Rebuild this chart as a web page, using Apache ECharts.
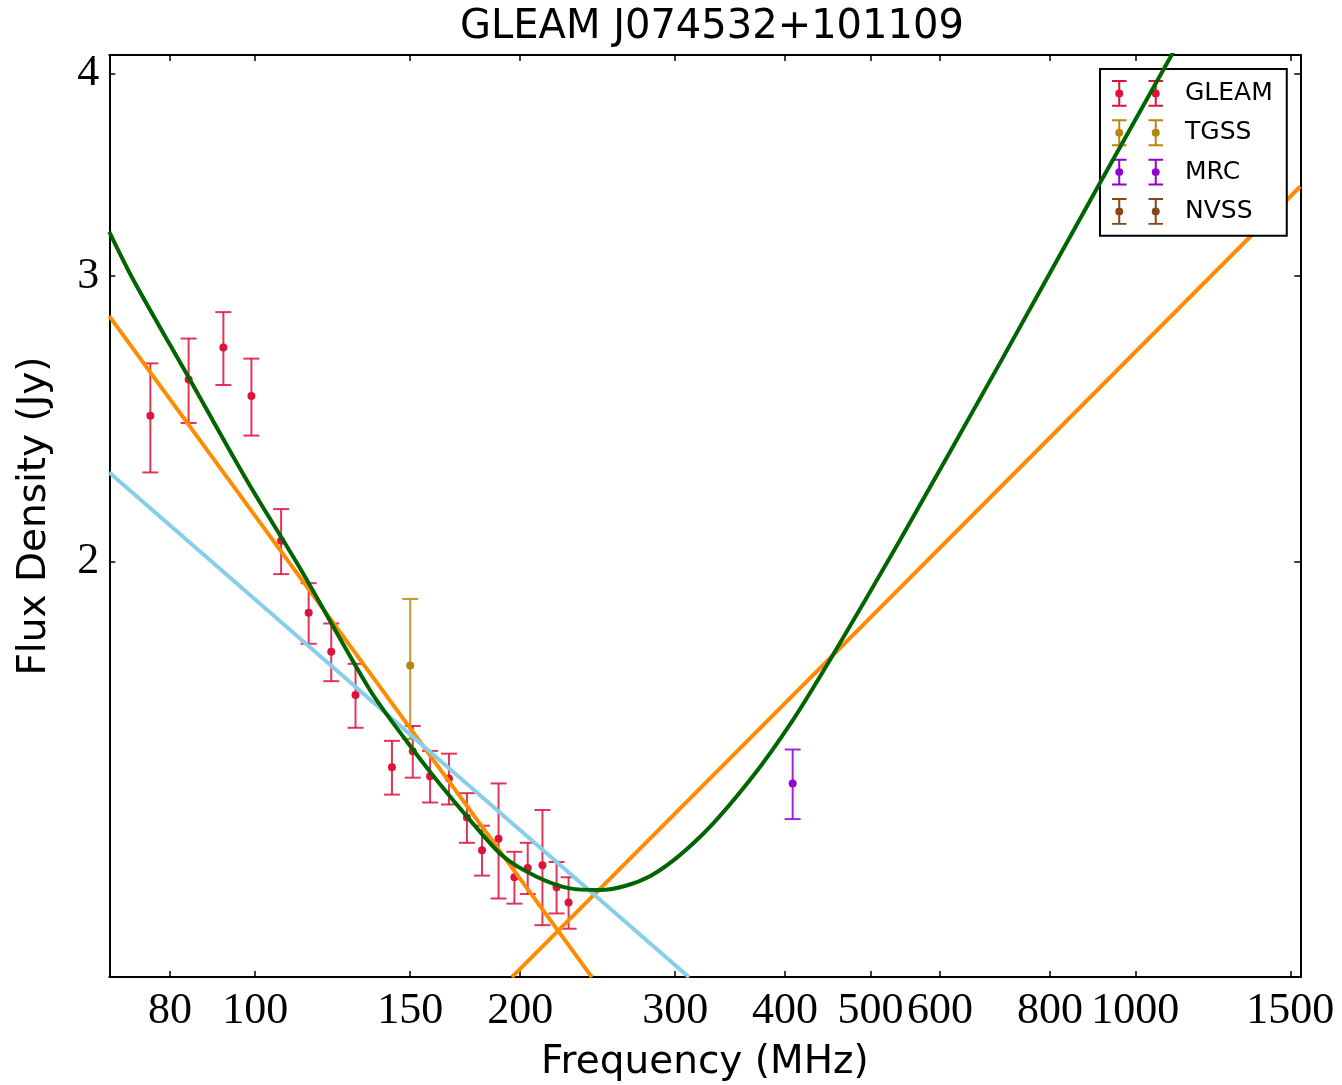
<!DOCTYPE html>
<html>
<head>
<meta charset="utf-8">
<script src="https://cdn.jsdelivr.net/npm/echarts@6/dist/echarts.min.js"></script>
<style>
  html, body { margin: 0; padding: 0; background: #fff; }
  #chart { width: 1342px; height: 1085px; }
</style>
</head>
<body>
<div id="chart"></div>
<script>
// measured data (MHz, Jy)
const gleamFreq = [76, 84, 92, 99, 107, 115, 122, 130, 143, 151, 158, 166, 174, 181, 189, 197, 204, 212, 220, 227];
const gleamFlux = [2.46, 2.59, 2.71, 2.53, 2.06, 1.86, 1.76, 1.655, 1.494, 1.528, 1.475, 1.47, 1.391, 1.328, 1.35, 1.278, 1.295, 1.30, 1.26, 1.233];
const gleamErr = [0.19, 0.155, 0.14, 0.138, 0.095, 0.08, 0.072, 0.075, 0.057, 0.056, 0.054, 0.053, 0.049, 0.047, 0.11, 0.047, 0.047, 0.106, 0.046, 0.045];
const tgssFreq = [150];
const tgssFlux = [1.726];
const tgssErr = [0.171];
const mrcFreq = [408];
const mrcFlux = [1.46];
const mrcErr = [0.072];
const nvssFreq = [];
const nvssFlux = [];
const nvssErr = [];

// fitted models
const greenFreq = [68.26, 72.7, 84.3, 97.8, 112.4, 135.0, 147.3, 160.7, 175.4, 191.4, 208.8, 227.8, 246.5, 280.9, 320.1, 364.8, 408.4, 453.3, 540.2, 701.6, 911.6, 1094.9, 1153.6];
const greenFlux = [3.194, 2.983, 2.589, 2.245, 1.982, 1.667, 1.560, 1.467, 1.386, 1.316, 1.279, 1.258, 1.255, 1.280, 1.353, 1.467, 1.598, 1.752, 2.062, 2.651, 3.423, 4.088, 4.304];
const orangeLowFreq = [68.26, 241.3];
const orangeLowFlux = [2.834, 1.109];
const orangeHighFreq = [195.7, 1539.8];
const orangeHighFlux = [1.109, 3.406];
const blueFreq = [68.26, 311.1];
const blueFlux = [2.270, 1.109];

const xTicks = [80, 100, 150, 200, 300, 400, 500, 600, 800, 1000, 1500];
const yTicks = [2, 3, 4];
const xMin = 68.26, xMax = 1539.8;
const yMin = 1.1093, yMax = 4.105;

const lg = Math.log10;

const chart = echarts.init(document.getElementById("chart"));

const toLine = (fs, ss) => fs.map((f, i) => [lg(f), lg(ss[i])]);
const toErr = (fs, ss, es) =>
  fs.map((f, i) => [lg(f), lg(ss[i]), lg(ss[i] - es[i]), lg(ss[i] + es[i])]);

// two little error bars side by side for the legend
const barPath = (cx) =>
  `M${cx - 7.3} 0h14.6v2h-14.6Z` +
  `M${cx - 7.3} 25h14.6v2h-14.6Z` +
  `M${cx - 1} 0h2v27h-2Z` +
  `M${cx - 4} 13.5a4 4 0 1 1 8 0a4 4 0 1 1 -8 0Z`;
const legendIcon = "path://" + barPath(7.3) + barPath(44);

const renderErr = (params, api) => {
  const c = api.coord([api.value(0), api.value(1)]);
  const lo = api.coord([api.value(0), api.value(2)]);
  const hi = api.coord([api.value(0), api.value(3)]);
  const color = api.visual("color");
  const bar = { stroke: color, lineWidth: 2, opacity: 0.85 };
  return {
    type: "group",
    children: [
      { type: "line", shape: { x1: c[0], y1: hi[1], x2: c[0], y2: lo[1] }, style: bar },
      { type: "line", shape: { x1: c[0] - 8, y1: hi[1], x2: c[0] + 8, y2: hi[1] }, style: bar },
      { type: "line", shape: { x1: c[0] - 8, y1: lo[1], x2: c[0] + 8, y2: lo[1] }, style: bar },
      { type: "circle", shape: { cx: c[0], cy: c[1], r: 4 }, style: { fill: color } },
    ],
  };
};

const errSeries = (name, color, fs, ss, es) => ({
  name: name,
  type: "custom",
  renderItem: renderErr,
  itemStyle: { color: color },
  encode: { x: 0, y: 1 },
  data: toErr(fs, ss, es),
  z: 2,
});

const lineSeries = (color, data, z, smooth) => ({
  type: "line",
  data: data,
  showSymbol: false,
  smooth: smooth || false,
  lineStyle: { color: color, width: 4 },
  itemStyle: { color: color },
  silent: true,
  z: z,
});

const axisCommon = {
  type: "value",
  splitLine: { show: false },
  axisLine: { show: true, onZero: false, lineStyle: { color: "#000", width: 2 } },
};

const option = {
  animation: false,
  backgroundColor: "#fff",
  title: {
    text: "GLEAM J074532+101109",
    left: 455,
    top: 3,
    textStyle: { fontFamily: "DejaVu Sans", fontSize: 40, fontWeight: "normal", color: "#000" },
  },
  legend: {
    orient: "vertical",
    left: 1100,
    top: 69,
    width: 186,
    padding: [11, 14, 11, 12],
    itemWidth: 51,
    itemHeight: 27,
    itemGap: 12.5,
    borderColor: "#000",
    borderWidth: 2,
    backgroundColor: "#fff",
    textStyle: { fontFamily: "DejaVu Sans", fontSize: 25, color: "#000", padding: [0, 0, 0, 17] },
    data: ["GLEAM", "TGSS", "MRC", "NVSS"].map((n) => ({ name: n, icon: legendIcon })),
  },
  grid: { left: 109.3, right: 41.7, top: 55, bottom: 108, outerBoundsMode: "none" },
  xAxis: [
    {
      ...axisCommon,
      min: lg(xMin),
      max: lg(xMax),
      position: "bottom",
      axisTick: { show: true, inside: true, length: 6, customValues: xTicks.map(lg), lineStyle: { color: "#000", width: 1.5 } },
      axisLabel: {
        customValues: xTicks.map(lg),
        formatter: (v) => String(Math.round(Math.pow(10, v))),
        fontFamily: "Liberation Serif",
        fontSize: 44,
        color: "#000",
        margin: 12,
      },
      name: "Frequency (MHz)",
      nameLocation: "middle",
      nameGap: 66,
      nameTextStyle: { fontFamily: "DejaVu Sans", fontSize: 39, color: "#000" },
    },
    {
      ...axisCommon,
      min: lg(xMin),
      max: lg(xMax),
      position: "top",
      axisTick: { show: true, inside: true, length: 6, customValues: xTicks.map(lg), lineStyle: { color: "#000", width: 1.5 } },
      axisLabel: { show: false },
    },
  ],
  yAxis: [
    {
      ...axisCommon,
      min: lg(yMin),
      max: lg(yMax),
      position: "left",
      axisTick: { show: true, inside: true, length: 6, customValues: yTicks.map(lg), lineStyle: { color: "#000", width: 1.5 } },
      axisLabel: {
        customValues: yTicks.map(lg),
        formatter: (v) => String(Math.round(Math.pow(10, v))),
        fontFamily: "Liberation Serif",
        fontSize: 44,
        color: "#000",
        margin: 10,
      },
      name: "Flux Density (Jy)",
      nameLocation: "middle",
      nameGap: 55,
      nameTextStyle: { fontFamily: "DejaVu Sans", fontSize: 39, color: "#000" },
    },
    {
      ...axisCommon,
      min: lg(yMin),
      max: lg(yMax),
      position: "right",
      axisTick: { show: true, inside: true, length: 6, customValues: yTicks.map(lg), lineStyle: { color: "#000", width: 1.5 } },
      axisLabel: { show: false },
    },
  ],
  series: [
    errSeries("GLEAM", "#dc143c", gleamFreq, gleamFlux, gleamErr),
    errSeries("TGSS", "#b8860b", tgssFreq, tgssFlux, tgssErr),
    errSeries("MRC", "#9400d3", mrcFreq, mrcFlux, mrcErr),
    errSeries("NVSS", "#8b4513", nvssFreq, nvssFlux, nvssErr),
    lineSeries("#ff8c00", toLine(orangeLowFreq, orangeLowFlux), 3),
    lineSeries("#ff8c00", toLine(orangeHighFreq, orangeHighFlux), 3),
    lineSeries("#87ceeb", toLine(blueFreq, blueFlux), 4),
    lineSeries("#006400", toLine(greenFreq, greenFlux), 5, 0.3),
  ],
};

chart.setOption(option);

window.addEventListener("resize", () => {
  chart.resize();
});
</script>
</body>
</html>
